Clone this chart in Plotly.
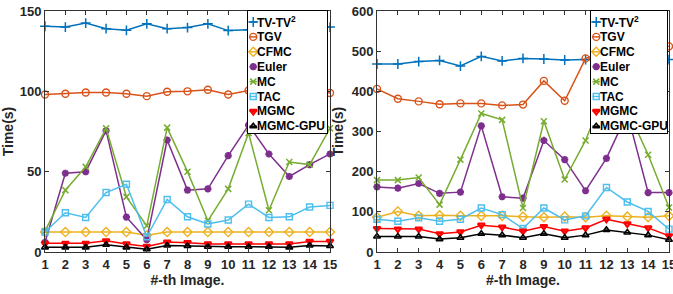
import plotly.graph_objects as go

images = list(range(1, 16))
methods = ["TV-TV<sup>2</sup>", "TGV", "CFMC", "Euler", "MC", "TAC", "MGMC", "MGMC-GPU"]

# Left panel (times in seconds)
left_tv = [140.5, 140, 142.5, 139, 138, 142, 139, 139.7, 142, 137.8, 138.4, 139, 140, 139, 140]
left_tgv = [98, 98.5, 99.3, 99.3, 98.5, 97, 99.7, 100, 101, 98, 100.5, 100, 99, 100, 99]
left_cfmc = [12.4, 12.4, 12.4, 12.4, 12.4, 10.4, 12.4, 12.4, 12.4, 12.4, 12.4, 12.4, 12.4, 12.4, 12.4]
left_euler = [6, 49, 50, 75.5, 21.7, 7.7, 69.7, 38.5, 39.3, 60, 79, 61, 47, 54.4, 61]
left_mc = [13, 38.5, 53, 77, 34.3, 16.3, 77.4, 50, 19.4, 39.3, 74, 26, 56, 54.4, 77]
left_tac = [12.4, 24.4, 21.5, 37, 42.2, 9.5, 32.7, 21.9, 17.4, 19.9, 29.8, 21.5, 21.9, 28, 29]
left_mgmc = [5.4, 5.4, 5.4, 7, 5, 3.5, 6.2, 5.8, 5, 5, 5, 5, 5, 6.6, 6.6]
left_gpu = [2.9, 2.9, 2.9, 4.5, 2.9, 1.7, 4, 3.7, 3.3, 3.3, 3.3, 3.3, 2.9, 4, 3.7]

# Right panel (times in seconds)
right_tv = [468, 468, 474, 477, 463, 487, 475.6, 482, 480.5, 478, 479, 480, 478, 481, 479]
right_tgv = [406, 381.6, 375, 368, 370, 370, 365, 367, 426, 376.6, 482, 500, 495, 505, 512]
right_cfmc = [86.5, 101, 90, 91.5, 90, 90, 90, 88, 86.5, 88, 86.5, 90, 88, 86.5, 90]
right_euler = [162, 159, 170.6, 146, 149, 314, 137.6, 134, 277.7, 230, 152.5, 233, 345, 148, 148]
right_mc = [179, 179, 185.5, 118, 230, 345, 329, 109.6, 325.5, 180.5, 277.7, 410, 355, 242, 111]
right_tac = [81.6, 76.6, 85, 76.6, 81.6, 109.6, 93, 58.5, 109.6, 80, 90, 160.7, 124.5, 101, 57]
right_mgmc = [58.5, 57, 57, 45.3, 50, 66.8, 62, 51.9, 63.5, 51.9, 60, 81.6, 70, 60, 40.4]
right_gpu = [38.7, 38.7, 38.7, 32.1, 35.4, 45.3, 42, 35.4, 45.3, 35.4, 42, 55, 48.6, 42, 30.5]

left_ticks = [0, 50, 100, 150]
right_ticks = [0, 100, 200, 300, 400, 500, 600]

colors = ["#0072BD", "#D95319", "#EDB120", "#7E2F8E", "#77AC30", "#4DBEEE", "#FF0000", "#000000"]
symbols = ["cross-thin-open", "circle-open", "diamond-open", "asterisk-open",
           "x-thin-open", "square-open", "triangle-down-open", "triangle-up-open"]
msizes = [7, 7, 7, 6, 6, 6, 6, 6]
mwidths = [1.5, 1.4, 1.4, 2.2, 1.5, 1.4, 2.2, 1.6]

left_series = [left_tv, left_tgv, left_cfmc, left_euler, left_mc, left_tac, left_mgmc, left_gpu]
right_series = [right_tv, right_tgv, right_cfmc, right_euler, right_mc, right_tac, right_mgmc, right_gpu]

FONT = "Liberation Sans, Arial, sans-serif"
TXT = "#262626"

fig = go.Figure()

def add_series(series, xa, ya):
    for i, vals in enumerate(series):
        fig.add_trace(go.Scatter(
            x=images, y=vals, xaxis=xa, yaxis=ya, mode="lines+markers",
            line=dict(color=colors[i], width=1.5),
            marker=dict(symbol=symbols[i], size=msizes[i], color=colors[i],
                        line=dict(color=colors[i], width=mwidths[i])),
            cliponaxis=False, showlegend=False, hoverinfo="skip"))

add_series(left_series, "x", "y")
add_series(right_series, "x2", "y2")

# Legend boxes drawn as small overlay subplots (pixel-like coordinates)
def add_legend(xa, ya):
    for i, name in enumerate(methods):
        ry = 11 + 14.9 * i
        fig.add_trace(go.Scatter(
            x=[1.5, 9], y=[ry, ry], xaxis=xa, yaxis=ya, mode="lines",
            line=dict(color=colors[i], width=1.5), showlegend=False, hoverinfo="skip"))
        fig.add_trace(go.Scatter(
            x=[5.25], y=[ry], xaxis=xa, yaxis=ya, mode="markers",
            marker=dict(symbol=symbols[i], size=msizes[i], color=colors[i],
                        line=dict(color=colors[i], width=mwidths[i])),
            showlegend=False, hoverinfo="skip"))
        fig.add_annotation(x=9.5, y=ry, xref=xa, yref=ya, text=name,
                           showarrow=False, xanchor="left", yanchor="middle",
                           xshift=-2, borderpad=0,
                           font=dict(family=FONT, size=12, color="#000", weight=700))

add_legend("x3", "y3")
add_legend("x4", "y4")

W, H = 673, 294
ml, mr, mt, mb = 45, 4, 11, 42
pw = W - ml - mr
ph = H - mt - mb

def px_dom(a, b):
    return [(a - ml) / pw, (b - ml) / pw]

leg_ydom = [(mt + ph - 133) / ph, 1.0]

axis_common = dict(showline=True, linecolor="#333", linewidth=1, mirror="ticks",
                   ticks="inside", ticklen=4, tickcolor="#333", showgrid=False,
                   zeroline=False, automargin=False, ticklabeloverflow="allow",
                   tickfont=dict(family=FONT, size=13, color=TXT, weight=700))
title_font = dict(family=FONT, size=14, color=TXT, weight=700)

leg_axis = dict(showticklabels=False, ticks="", showline=True, mirror=True,
                linecolor="#000", linewidth=1, showgrid=False, zeroline=False,
                fixedrange=True, automargin=False)

fig.update_layout(
    width=W, height=H, margin=dict(l=ml, r=mr, t=mt, b=mb, autoexpand=False),
    paper_bgcolor="white", plot_bgcolor="white",
    xaxis=dict(domain=px_dom(45, 330), range=[1, 15], tickvals=images, anchor="y",
               title=dict(text="#-th Image.", font=title_font, standoff=4), **axis_common),
    yaxis=dict(domain=[0, 1], range=[0, 150], tickvals=left_ticks, anchor="x",
               title=dict(text="Time(s)", font=title_font, standoff=4), **axis_common),
    xaxis2=dict(domain=px_dom(377, 669), range=[1, 15], tickvals=images, anchor="y2",
                title=dict(text="#-th Image.", font=title_font, standoff=4), **axis_common),
    yaxis2=dict(domain=[0, 1], range=[0, 600], tickvals=right_ticks, anchor="x2",
                title=dict(text="Time(s)", font=title_font, standoff=4), **axis_common),
    xaxis3=dict(domain=px_dom(248, 327), range=[0, 79], anchor="y3", **leg_axis),
    yaxis3=dict(domain=leg_ydom, range=[122, 0], anchor="x3", **leg_axis),
    xaxis4=dict(domain=px_dom(591, 667), range=[0, 76], anchor="y4", **leg_axis),
    yaxis4=dict(domain=leg_ydom, range=[122, 0], anchor="x4", **leg_axis),
)

fig.write_html("out.html", config={"displayModeBar": False},
               post_script="document.body.style.margin='0';document.body.style.overflow='hidden';")
